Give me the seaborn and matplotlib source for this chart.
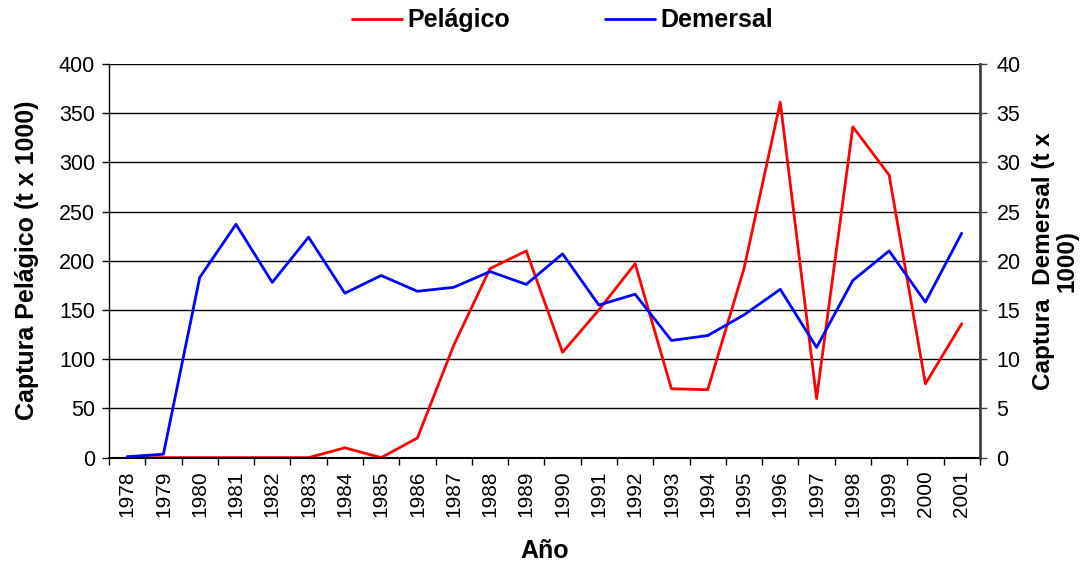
import numpy as np
import pandas as pd
import matplotlib
matplotlib.use('Agg')
import matplotlib.pyplot as plt
import seaborn as sns

# data
years = ['1978', '1979', '1980', '1981', '1982', '1983', '1984', '1985',
         '1986', '1987', '1988', '1989', '1990', '1991', '1992', '1993',
         '1994', '1995', '1996', '1997', '1998', '1999', '2000', '2001']

pelagico = [0, 0, 0, 0, 0, 0, 10, 0, 20, 114, 192, 210,
            107, 150, 197, 70, 69, 192, 361, 60, 336, 287, 75, 136]

demersal = [0.1, 0.35, 18.3, 23.7, 17.8, 22.4, 16.7, 18.5, 16.9, 17.3, 18.9, 17.6,
            20.7, 15.5, 16.6, 11.9, 12.4, 14.5, 17.1, 11.2, 18.0, 21.0, 15.8, 22.8]

left_ticks = [0, 50, 100, 150, 200, 250, 300, 350, 400]
right_ticks = [0, 5, 10, 15, 20, 25, 30, 35, 40]

df = pd.DataFrame({'pos': np.arange(len(years)),
                   'year': years,
                   'pelagico': pelagico,
                   'demersal': demersal})

sns.set_style('white')
plt.rcParams['font.family'] = ['Liberation Sans', 'DejaVu Sans']
#plain black text like the original
plt.rcParams['text.color'] = 'black'
plt.rcParams['axes.labelcolor'] = 'black'
plt.rcParams['xtick.color'] = 'black'
plt.rcParams['ytick.color'] = 'black'

fig = plt.figure(figsize=(10.92, 5.65), dpi=100)
ax = fig.add_axes([0.0998, 0.190, 0.7975, 0.697])
ax2 = ax.twinx()

#red line on the left axis, blue on the right one
sns.lineplot(data=df, x='pos', y='pelagico', ax=ax, color='#ff0000',
             linewidth=2.0, label='Pelágico', legend=False)
sns.lineplot(data=df, x='pos', y='demersal', ax=ax2, color='#0000ff',
             linewidth=2.0, label='Demersal', legend=False)

ax.set_xlim(-0.5, len(years) - 0.5)
ax.set_ylim(0, 400)
ax2.set_ylim(0, 40)

#horizontal gridlines
ax.set_yticks(left_ticks)
ax.yaxis.grid(True, color='black', linewidth=1.0)
ax.set_axisbelow(True)
ax2.set_yticks(right_ticks)

#category ticks at the boundaries, labels at the centres
ax.set_xticks(np.arange(len(years) + 1) - 0.5)
ax.set_xticklabels([])
ax.set_xticks(np.arange(len(years)), minor=True)
ax.set_xticklabels(years, minor=True, rotation=90, fontsize=15)
ax.tick_params(axis='x', which='major', direction='out', length=5, width=1, color='black', bottom=True)
ax.tick_params(axis='x', which='minor', length=0, pad=9)

ax.tick_params(axis='y', direction='out', length=5, width=1, color='black', labelsize=15.5, left=True, pad=5)
ax2.tick_params(axis='y', direction='out', length=5, width=1, color='#404040', labelsize=15.5, right=True, pad=7)

ax.spines['top'].set_visible(False)
ax2.spines['top'].set_visible(False)
ax.spines['left'].set_color('black')
ax.spines['left'].set_linewidth(1.0)
ax.spines['bottom'].set_color('black')
ax.spines['bottom'].set_linewidth(1.5)
ax.spines['right'].set_visible(False)
ax2.spines['left'].set_visible(False)
ax2.spines['bottom'].set_visible(False)
ax2.spines['right'].set_color('#404040')
ax2.spines['right'].set_linewidth(2.0)

ax.set_xlabel('Año', fontsize=18, fontweight='bold', labelpad=16)
ax.set_ylabel('Captura Pelágico (t x 1000)', fontsize=18, fontweight='bold', labelpad=14)
ax2.set_ylabel('Captura  Demersal (t x\n1000)', fontsize=17.5, fontweight='bold',
               rotation=90, labelpad=8, multialignment='center', linespacing=1.05)

#legend on top
h1, l1 = ax.get_legend_handles_labels()
h2, l2 = ax2.get_legend_handles_labels()
fig.legend(h1 + h2, l1 + l2, loc='upper center', bbox_to_anchor=(0.515, 1.025), ncol=2,
           frameon=False, prop={'weight': 'bold', 'size': 18},
           handlelength=2.0, handletextpad=0.2, columnspacing=3.8)

fig.savefig('out.png', dpi=100)
